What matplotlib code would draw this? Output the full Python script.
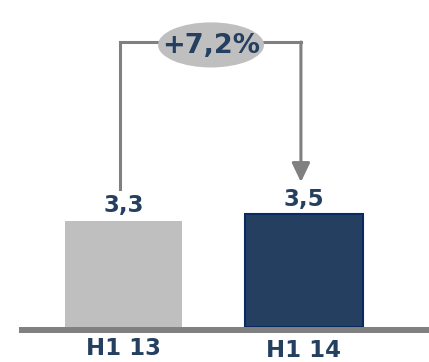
import matplotlib
matplotlib.use('Agg')
import matplotlib.pyplot as plt
from matplotlib.patches import Ellipse

categories = ['H1 13', 'H1 14']
values = [3.3, 3.5]
value_labels = ['3,3', '3,5']
growth_label = '+7,2%'

navy = '#243F60'
grey_bar = '#BFBFBF'
line_grey = '#808080'

fig = plt.figure(figsize=(4.29, 3.62), dpi=100)
ax = fig.add_axes([0, 0, 1, 1])
ax.set_xlim(-0.684, 1.6925)
ax.set_ylim(-1.087, 10.155)
ax.axis('off')

x = list(range(len(categories)))
ax.bar(x[0], values[0], width=0.651, color=grey_bar, edgecolor='none', zorder=2)
ax.bar(x[1], values[1], width=0.651, color=navy, edgecolor='#0A2A66', linewidth=1.5, zorder=2)

# baseline
ax.axhline(-0.093, xmin=0.0513, xmax=1, color=line_grey, linewidth=4.3, zorder=3)

for xi, v, lab in zip(x, values, value_labels):
    ax.text(xi, v + 0.27, lab, ha='center', va='baseline', fontsize=16.5,
            fontweight='bold', color=navy)

cat_y = [-0.87, -0.93]
for xi, cy, cat in zip(x, cat_y, categories):
    ax.text(xi, cy, cat, ha='center', va='baseline', fontsize=16.5,
            fontweight='bold', color=navy)

# growth bracket
top = 8.85
xl = x[0] - 0.02
xr = x[1] - 0.017
ax.plot([xl, xl, xr], [values[0] + 1.0, top, top], color=line_grey, lw=2.2,
        solid_joinstyle='miter', zorder=1)
ax.annotate('', xy=(xr, values[1] + 1.0), xytext=(xr, top),
            arrowprops=dict(arrowstyle='-|>,head_length=1.15,head_width=0.55',
                            color=line_grey, lw=2.2, shrinkA=0, shrinkB=0,
                            mutation_scale=10),
            zorder=1)

ell = Ellipse((0.485, 8.76), 0.587, 1.40, facecolor=grey_bar, edgecolor='none', zorder=4)
ax.add_patch(ell)
ax.text(0.485, 8.74, growth_label, ha='center', va='center', fontsize=19.5,
        fontweight='bold', color=navy, zorder=5)

fig.savefig('out.png', dpi=100)
